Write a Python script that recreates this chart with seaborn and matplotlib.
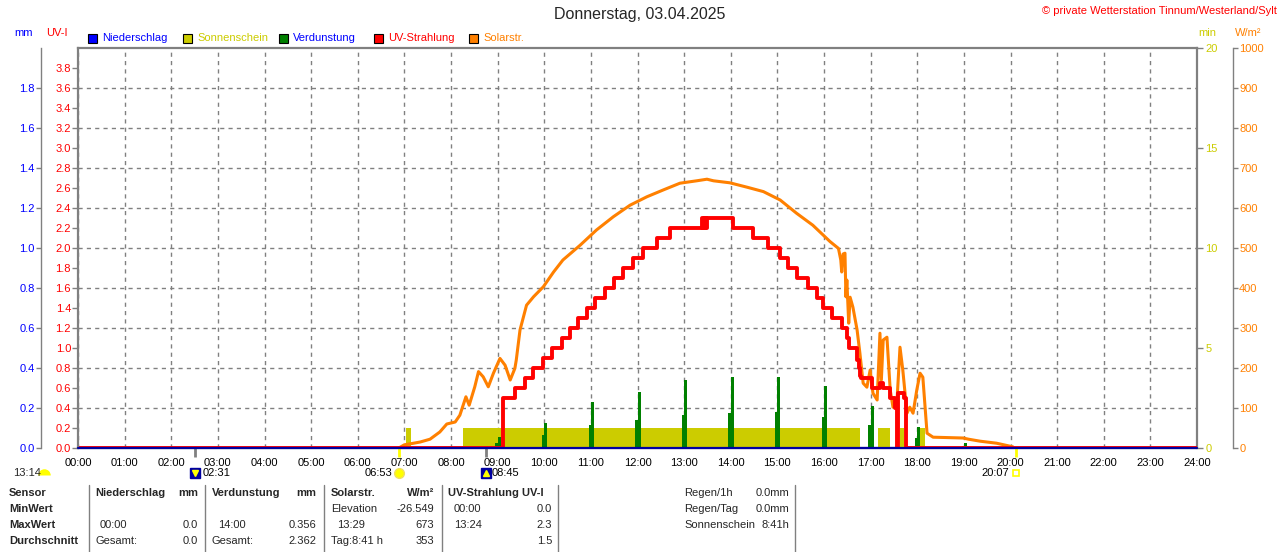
import matplotlib
matplotlib.use('Agg')
import matplotlib.pyplot as plt
from matplotlib.lines import Line2D
from matplotlib.patches import Rectangle
from matplotlib.ticker import FormatStrFormatter
import seaborn as sns

# colours
BLUE = '#0000FF'
NAVY = '#0000A0'
RED = '#FF0000'
ORANGE = '#FF8000'
GREEN = '#008000'
YELLOW = '#CCCC00'
GRAY = '#808080'

# x axis (hours of the day)
hours = [0, 1, 2, 3, 4, 5, 6, 7, 8, 9, 10, 11, 12, 13, 14, 15, 16, 17, 18, 19, 20, 21, 22, 23, 24]
hour_labels = ['00:00', '01:00', '02:00', '03:00', '04:00', '05:00', '06:00', '07:00', '08:00',
               '09:00', '10:00', '11:00', '12:00', '13:00', '14:00', '15:00', '16:00', '17:00',
               '18:00', '19:00', '20:00', '21:00', '22:00', '23:00', '24:00']

# axis ticks
mm_ticks = [0.0, 0.2, 0.4, 0.6, 0.8, 1.0, 1.2, 1.4, 1.6, 1.8]
uv_ticks = [0.0, 0.2, 0.4, 0.6, 0.8, 1.0, 1.2, 1.4, 1.6, 1.8, 2.0, 2.2, 2.4, 2.6, 2.8, 3.0,
            3.2, 3.4, 3.6, 3.8]
min_ticks = [0, 5, 10, 15, 20]
w_ticks = [0, 100, 200, 300, 400, 500, 600, 700, 800, 900, 1000]

# Niederschlag (mm), hourly
rain_mm = [0.0, 0.0, 0.0, 0.0, 0.0, 0.0, 0.0, 0.0, 0.0, 0.0, 0.0, 0.0, 0.0, 0.0, 0.0, 0.0,
           0.0, 0.0, 0.0, 0.0, 0.0, 0.0, 0.0, 0.0, 0.0]

# Sonnenschein (min) segments
sun_start = [7.03, 8.25, 17.16, 17.63, 18.02]
sun_end = [7.14, 16.77, 17.42, 17.72, 18.17]
sun_min = [1, 1, 1, 1, 1]

# Verdunstung (mm) at full hours
evap_t = [9, 10, 11, 12, 13, 14, 15, 16, 17, 18, 19]
evap_mm = [0.053, 0.127, 0.23, 0.28, 0.34, 0.356, 0.356, 0.31, 0.21, 0.105, 0.027]
evap_pre_mm = [0.025, 0.065, 0.115, 0.14, 0.165, 0.175, 0.18, 0.155, 0.115, 0.05, 0.01]

# Solarstrahlung (W/m2)
solar_t = [6.88, 7.0, 7.2, 7.34, 7.55, 7.76, 7.91, 8.09, 8.19, 8.32, 8.39, 8.51, 8.59, 8.69,
           8.8, 8.91, 9.05, 9.16, 9.27, 9.37, 9.4, 9.48, 9.62, 9.77, 9.98, 10.2, 10.4, 10.77,
           11.12, 11.48, 11.84, 12.2, 12.55, 12.91, 13.27, 13.49, 13.63, 13.98, 14.35, 14.7,
           15.06, 15.41, 15.76, 16.13, 16.31, 16.36, 16.38, 16.41, 16.45, 16.47, 16.49, 16.53,
           16.56, 16.62, 16.71, 16.77, 16.84, 16.92, 16.99, 17.05, 17.14, 17.2, 17.23, 17.27,
           17.35, 17.42, 17.48, 17.57, 17.63, 17.69, 17.78, 17.84, 17.91, 17.99, 18.06, 18.12,
           18.21, 18.34, 18.98, 19.1, 19.35, 19.7, 20.05]
solar_w = [0, 8, 12, 15, 22, 40, 60, 65, 82, 128, 107, 153, 191, 178, 153, 187, 224, 207, 170,
           199, 220, 295, 357, 378, 403, 440, 470, 507, 545, 578, 607, 628, 645, 662, 668, 672,
           668, 663, 652, 641, 620, 587, 557, 516, 499, 470, 440, 485, 487, 378, 420, 312, 377,
           352, 295, 237, 162, 152, 195, 137, 120, 287, 170, 270, 277, 145, 102, 127, 252, 195,
           87, 102, 87, 145, 187, 177, 37, 27, 25, 22, 17, 12, 3]

# UV-Strahlung (UV-I), step values
uv_t = [0.0, 9.12, 9.37, 9.59, 9.76, 9.97, 10.17, 10.38, 10.55, 10.72, 10.92, 11.09, 11.3, 11.5,
        11.69, 11.9, 12.12, 12.42, 12.7, 13.38, 13.41, 13.44, 13.47, 13.5, 14.05, 14.48, 14.8,
        15.06, 15.23, 15.42, 15.66, 15.85, 15.98, 16.17, 16.39, 16.49, 16.53, 16.7, 16.74,
        16.77, 16.8, 17.02, 17.2, 17.27, 17.42, 17.52, 17.56, 17.59, 17.72, 17.76, 24.0]
uv_v = [0.0, 0.5, 0.6, 0.7, 0.8, 0.9, 1.0, 1.1, 1.2, 1.3, 1.4, 1.5, 1.6, 1.7, 1.8, 1.9, 2.0,
        2.1, 2.2, 2.3, 2.2, 2.3, 2.2, 2.3, 2.2, 2.1, 2.0, 1.9, 1.8, 1.7, 1.6, 1.5, 1.4, 1.3,
        1.2, 1.1, 1.0, 0.88, 0.8, 0.72, 0.7, 0.6, 0.65, 0.6, 0.5, 0.4, 0.0, 0.55, 0.5, 0.0, 0.0]

# sun / moon events below the time axis
event_t = [2.517, 6.883, 8.75, 20.117]
event_labels = ['02:31', '06:53', '08:45', '20:07']
event_colors = [GRAY, '#FFFF00', GRAY, '#FFFF00']

# summary table
table_rows = ['Sensor', 'MinWert', 'MaxWert', 'Durchschnitt']

sns.set_theme(style='white')
plt.rcParams['font.family'] = ['Liberation Sans', 'DejaVu Sans']
plt.rcParams['font.size'] = 8

W, H = 1280, 552
fig = plt.figure(figsize=(12.8, 5.52), dpi=100)
fig.patch.set_facecolor('white')


def fx(px):
    return px / W


def fy(py):
    return 1 - py / H


rect = [fx(78), fy(448), fx(1197) - fx(78), fy(48) - fy(448)]
ax = fig.add_axes(rect)
ax.set_facecolor('white')
ax_sun = ax.twinx()
ax_ev = ax.twinx()
ax_w = ax.twinx()
ax_uv = ax.twinx()
ax_rain = ax.twinx()
for i, a in enumerate([ax, ax_sun, ax_ev, ax_w, ax_uv, ax_rain]):
    a.set_zorder(i)
    for s in a.spines.values():
        s.set_visible(False)
    a.set_xlim(0, 24)

ax.set_ylim(0, 2)
ax_ev.set_ylim(0, 2)
ax_rain.set_ylim(0, 2)
ax_sun.set_ylim(0, 20)
ax_w.set_ylim(0, 1000)
ax_uv.set_ylim(0, 4)

# grid
ax.set_xticks(hours)
ax.set_xticklabels(hour_labels)
ax.set_yticks(mm_ticks)
ax.yaxis.set_major_formatter(FormatStrFormatter('%.1f'))
ax.grid(True, color=GRAY, linestyle=(0, (3, 3)), linewidth=1)

# sunshine bars
widths = [e - s for s, e in zip(sun_start, sun_end)]
ax_sun.bar(sun_start, sun_min, width=widths, align='edge', color=YELLOW, linewidth=0)

# evaporation spikes
ax_ev.bar(evap_t, evap_mm, width=0.065, align='edge', color=GREEN, linewidth=0)
ax_ev.bar(evap_t, evap_pre_mm, width=-0.05, align='edge', color=GREEN, linewidth=0)

# solar radiation
sns.lineplot(x=solar_t, y=solar_w, ax=ax_w, color=ORANGE, linewidth=2.2,
             estimator=None, sort=False)

# UV index
sns.lineplot(x=uv_t, y=uv_v, ax=ax_uv, color=RED, linewidth=2.8,
             estimator=None, sort=False, drawstyle='steps-post')

# precipitation
sns.lineplot(x=hours, y=rain_mm, ax=ax_rain, color=NAVY, linewidth=1.6,
             estimator=None, sort=False, clip_on=False)

for a in [ax, ax_sun, ax_ev, ax_w, ax_uv, ax_rain]:
    a.set_xlabel('')
    a.set_ylabel('')
    a.set_xlim(0, 24)

# frame
for side in ['top', 'right', 'bottom']:
    ax.spines[side].set_visible(True)
    ax.spines[side].set_color(GRAY)
    ax.spines[side].set_linewidth(1.6)
ax_uv.spines['left'].set_visible(True)
ax_uv.spines['left'].set_color(GRAY)
ax_uv.spines['left'].set_linewidth(1.6)

# mm axis (outer left)
ax.spines['left'].set_visible(True)
ax.spines['left'].set_color(GRAY)
ax.spines['left'].set_linewidth(1)
ax.spines['left'].set_position(('outward', 26.6))
ax.tick_params(axis='y', left=True, color=GRAY, labelcolor=BLUE, length=3.5, width=1,
               labelsize=8, pad=1)
ax.tick_params(axis='x', bottom=True, length=0, labelsize=8, pad=7, labelcolor='black')

# UV axis (inner left)
ax_uv.yaxis.tick_left()
ax_uv.set_yticks(uv_ticks)
ax_uv.yaxis.set_major_formatter(FormatStrFormatter('%.1f'))
ax_uv.tick_params(axis='y', left=True, right=False, labelleft=True, labelright=False,
                  color=GRAY, labelcolor=RED, length=4, width=1, labelsize=8, pad=1)

# min axis (inner right)
ax_sun.set_yticks(min_ticks)
ax_sun.tick_params(axis='y', right=True, color=GRAY, labelcolor=YELLOW, length=4, width=1,
                   labelsize=8, pad=2)

# W/m2 axis (outer right)
ax_w.spines['right'].set_visible(True)
ax_w.spines['right'].set_color(GRAY)
ax_w.spines['right'].set_linewidth(1)
ax_w.spines['right'].set_position(('outward', 25.9))
ax_w.set_yticks(w_ticks)
ax_w.tick_params(axis='y', right=True, color=GRAY, labelcolor=ORANGE, length=3.5, width=1,
                 labelsize=8, pad=1)

ax_ev.set_yticks([])
ax_rain.set_yticks([])

# event marks under the time axis
xt = ax.get_xaxis_transform()
ax.vlines(event_t, -0.022, 0, transform=xt, colors=event_colors, linewidth=2, clip_on=False,
          zorder=5)
ey = -0.0635
ax.plot(event_t[0], ey, marker='s', markersize=7, color=NAVY, transform=xt, clip_on=False)
ax.plot(event_t[0], ey, marker='v', markersize=4, color='#FFFF00', transform=xt, clip_on=False)
ax.plot(event_t[1], ey, marker='o', markersize=7, markerfacecolor='#FFFF00',
        markeredgecolor='#F0E060', transform=xt, clip_on=False)
ax.plot(event_t[2], ey, marker='s', markersize=7, color=NAVY, transform=xt, clip_on=False)
ax.plot(event_t[2], ey, marker='^', markersize=4, color='#FFFF00', transform=xt, clip_on=False)
ax.plot(event_t[3], ey, marker='s', markersize=4, markerfacecolor='white',
        markeredgecolor='#FFFF00', markeredgewidth=1.2, transform=xt, clip_on=False)
offsets = [5, -5, 4, -5]
aligns = ['left', 'right', 'left', 'right']
for t, lab, off, ha in zip(event_t, event_labels, offsets, aligns):
    ax.annotate(lab, xy=(t, ey), xycoords=xt, xytext=(off, 0), textcoords='offset points',
                ha=ha, va='center', fontsize=8, color='black', annotation_clip=False)

fig.text(fx(13), fy(473), '13:14', ha='left', va='center', fontsize=8)
fig.add_artist(Line2D([fx(44)], [fy(475)], marker='o', fillstyle='top', markersize=9,
                      markeredgewidth=0, markerfacecolor='#FFFF00',
                      markerfacecoloralt='none', transform=fig.transFigure))

# titles
fig.text(0.5, fy(15), 'Donnerstag, 03.04.2025', ha='center', va='center', fontsize=11.5)
fig.text(fx(1277), fy(11), '\u00a9 private Wetterstation Tinnum/Westerland/Sylt', ha='right',
         va='center', fontsize=8, color=RED)

# axis unit labels
fig.text(fx(14), fy(33), 'mm', ha='left', va='center', fontsize=8, color=BLUE)
fig.text(fx(46), fy(33), 'UV-I', ha='left', va='center', fontsize=8, color=RED)
fig.text(fx(1198), fy(33), 'min', ha='left', va='center', fontsize=8, color=YELLOW)
fig.text(fx(1235), fy(33), 'W/m\u00b2', ha='left', va='center', fontsize=8, color=ORANGE)

# legend row
legend_items = [('Niederschlag', BLUE, BLUE, 88), ('Sonnenschein', YELLOW, YELLOW, 183),
                ('Verdunstung', GREEN, BLUE, 279), ('UV-Strahlung', RED, RED, 374),
                ('Solarstr.', ORANGE, ORANGE, 469)]
for name, box_c, txt_c, x0 in legend_items:
    fig.add_artist(Rectangle((fx(x0), fy(43)), 9 / W, 9 / H, transform=fig.transFigure,
                             facecolor=box_c, edgecolor='black', linewidth=0.8))
    fig.text(fx(x0 + 14), fy(38), name, ha='left', va='center', fontsize=8, color=txt_c)

# summary table
row_y = [493, 509, 525, 541]
for lab, y in zip(table_rows, row_y):
    fig.text(fx(9), fy(y), lab, ha='left', va='center', fontsize=8, fontweight='bold')

for xs in [89, 205, 324, 442, 558, 795]:
    fig.add_artist(Line2D([fx(xs), fx(xs)], [fy(485), fy(552)], color=GRAY, linewidth=1,
                          transform=fig.transFigure))


def cell(x, y, s, ha='left', bold=False):
    fig.text(fx(x), fy(y), s, ha=ha, va='center', fontsize=8,
             fontweight='bold' if bold else 'normal')


cell(95, 493, 'Niederschlag', bold=True)
cell(198, 493, 'mm', ha='right', bold=True)
cell(100, 525, '00:00')
cell(198, 525, '0.0', ha='right')
cell(95, 541, 'Gesamt:')
cell(198, 541, '0.0', ha='right')

cell(212, 493, 'Verdunstung', bold=True)
cell(316, 493, 'mm', ha='right', bold=True)
cell(218, 525, '14:00')
cell(316, 525, '0.356', ha='right')
cell(212, 541, 'Gesamt:')
cell(316, 541, '2.362', ha='right')

cell(331, 493, 'Solarstr.', bold=True)
cell(434, 493, 'W/m\u00b2', ha='right', bold=True)
cell(331, 509, 'Elevation')
cell(434, 509, '-26.549', ha='right')
cell(337, 525, '13:29')
cell(434, 525, '673', ha='right')
cell(331, 541, 'Tag:8:41 h')
cell(434, 541, '353', ha='right')

cell(448, 493, 'UV-Strahlung UV-I', bold=True)
cell(454, 509, '00:00')
cell(552, 509, '0.0', ha='right')
cell(454, 525, '13:24')
cell(552, 525, '2.3', ha='right')
cell(552, 541, '1.5', ha='right')

cell(684, 493, 'Regen/1h')
cell(789, 493, '0.0mm', ha='right')
cell(684, 509, 'Regen/Tag')
cell(789, 509, '0.0mm', ha='right')
cell(684, 525, 'Sonnenschein')
cell(789, 525, '8:41h', ha='right')

fig.savefig('out.png', dpi=100, facecolor='white')
